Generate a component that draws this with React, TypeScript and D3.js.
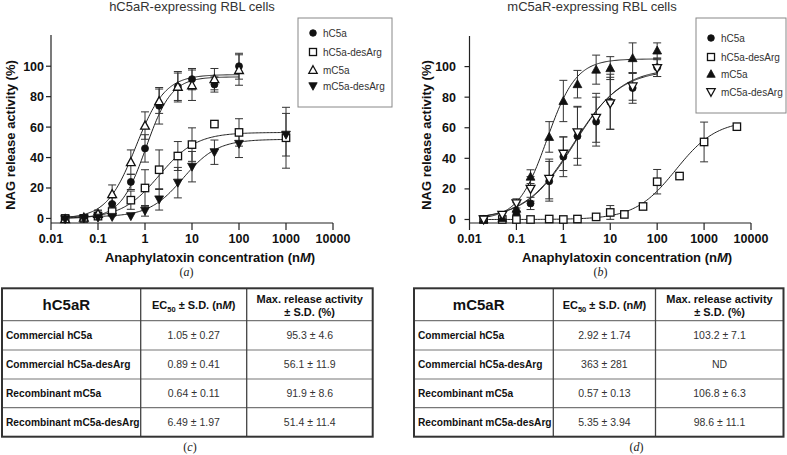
import React from "react";
import { scaleLog, scaleLinear, line, range } from "d3";

const FONT = "'Liberation Sans', Arial, Helvetica, sans-serif";
const SERIF = "'Liberation Serif', 'Times New Roman', serif";

// concentrations (nM)
const concStd = [0.02, 0.05, 0.1, 0.2, 0.5, 1, 2, 5, 10, 30, 100];
const concA_desArg = [0.02, 0.05, 0.1, 0.2, 0.5, 1, 2, 5, 10, 30, 100, 1000];
const concB_hDesArg = [0.02, 0.05, 0.1, 0.2, 0.5, 1, 2, 5, 10, 20, 50, 100, 300, 1000, 5000];

// (a) hC5aR-expressing cells, NAG release (%)
const a_hC5a = [0, 0.5, 2.5, 9.5, 24, 46, 74, 86.5, 91.5, 88, 100];
const a_hC5a_sd = [0.5, 0.5, 3, 4, 5, 9, 12, 9, 7, 5, 8.5];
const a_hC5aDesArg = [0, 0, 1.5, 4.5, 12, 20, 32, 41, 48.5, 62, 56.5, 53];
const a_hC5aDesArg_sd = [0, 0, 1, 3, 6, 12, 13, 9.5, 11, 0, 9, 20];
const a_mC5a = [-0.5, 0.5, 3, 16, 37, 61, 77, 86.5, 87.5, 91.5, 97.5];
const a_mC5a_sd = [0.5, 0.5, 2, 6, 8, 9, 8, 10, 10, 7, 10];
const a_mC5aDesArg = [-0.5, 0, 0.5, 1, 1.5, 5, 12.5, 23.5, 34, 43.5, 49, 55];
const a_mC5aDesArg_sd = [0, 0, 0, 0.5, 1, 3.5, 7, 10, 10, 8, 9, 14];

// (b) mC5aR-expressing cells
const b_hC5a = [0, 0.5, 3.5, 10.5, 25, 41, 54.5, 64, 77, 86, 99.5];
const b_hC5a_sd = [0.5, 0.5, 2, 4, 13, 13, 19, 16, 18, 10, 6];
const b_hC5aDesArg = [0, 0, 0, 0, 0.3, 0, 0.3, 1.7, 4.6, 3.3, 8.5, 24.7, 28.4, 50.7, 60.7];
const b_hC5aDesArg_sd = [0, 0, 0, 0, 0, 0.5, 0, 1, 4.5, 0, 0, 8, 0, 13, 0];
const b_mC5a = [0, 1, 7, 28, 54, 77.5, 88.5, 98, 99, 105.5, 110.5];
const b_mC5a_sd = [0.5, 1, 4, 4.5, 10, 13.5, 9, 9.5, 7.5, 10, 5];
const b_mC5aDesArg = [0, 3, 10.5, 20, 26.5, 43, 57, 66.5, 76, 87, 99];
const b_mC5aDesArg_sd = [0.5, 1.5, 3, 8, 13, 11, 17, 16, 17, 9, 5.5];

// fitted curves: [bottom, top, EC50, hill, last conc]
const fitA_hC5a = [0, 93, 1.05, 1.6, 100];
const fitA_hC5aDesArg = [0, 56.5, 2, 1.1, 1000];
const fitA_mC5a = [0, 94.5, 0.64, 1.4, 100];
const fitA_mC5aDesArg = [1, 52, 6.5, 1.2, 1000];
const fitB_hC5a = [0, 99, 1.7, 0.85, 100];
const fitB_hC5aDesArg = [0, 65, 250, 1.0, 5000];
const fitB_mC5a = [0, 105, 0.45, 1.4, 100];
const fitB_mC5aDesArg = [0, 98, 1.6, 0.85, 100];

const xTicks = [0.01, 0.1, 1, 10, 100, 1000, 10000];
const xTickLabels = ["0.01", "0.1", "1", "10", "100", "1000", "10000"];
const yTicks = [0, 20, 40, 60, 80, 100];

// tables
const rowLabels = ["Commercial hC5a", "Commercial hC5a-desArg", "Recombinant mC5a", "Recombinant mC5a-desArg"];
const c_ec50 = ["1.05 ± 0.27", "0.89 ± 0.41", "0.64 ± 0.11", "6.49 ± 1.97"];
const c_max = ["95.3 ± 4.6", "56.1 ± 11.9", "91.9 ± 8.6", "51.4 ± 11.4"];
const d_ec50 = ["2.92 ± 1.74", "363 ± 281", "0.57 ± 0.13", "5.35 ± 3.94"];
const d_max = ["103.2 ± 7.1", "ND", "106.8 ± 6.3", "98.6 ± 11.1"];

function Marker({ shape, filled, x, y, s = 1 }: any) {
  const fill = filled ? "#111" : "#fff";
  const sw = filled ? 0.8 : 1.3;
  if (shape === "circle")
    return <circle cx={x} cy={y} r={3.5 * s} fill={fill} stroke="#111" strokeWidth={sw} />;
  if (shape === "square") {
    const h = 3.7 * s;
    return <rect x={x - h} y={y - h} width={2 * h} height={2 * h} fill={fill} stroke="#111" strokeWidth={sw} />;
  }
  const w = 4.4 * s, h = 4 * s;
  const d = shape === "up"
    ? `M${x},${y - h - 0.5}L${x + w},${y + h - 0.5}L${x - w},${y + h - 0.5}Z`
    : `M${x},${y + h + 0.5}L${x + w},${y - h + 0.5}L${x - w},${y - h + 0.5}Z`;
  return <path d={d} fill={fill} stroke="#111" strokeWidth={sw} strokeLinejoin="miter" />;
}

function Panel({ cfg }: any) {
  const x = scaleLog().domain([0.01, 10000]).range([cfg.left, cfg.right]);
  const y = scaleLinear().domain([cfg.yMin, cfg.yMax]).range([223, cfg.top]);
  const axisY = 223;

  const curve = (f: number[]) => {
    const lo = Math.log10(0.02), hi = Math.log10(f[4]);
    const pts = range(0, 161).map((i) => 10 ** (lo + ((hi - lo) * i) / 160));
    return line<number>()
      .x((c) => x(c))
      .y((c) => y(f[0] + (f[1] - f[0]) / (1 + Math.pow(f[2] / c, f[3]))))(pts);
  };

  return (
    <g fontFamily={FONT}>
      <text x={cfg.titleX} y={11} textAnchor="middle" fontSize={13} fill="#333">{cfg.title}</text>

      {/* axes */}
      <line x1={cfg.left} x2={cfg.left} y1={cfg.top} y2={axisY} stroke="#222" strokeWidth={1.2} />
      <line x1={cfg.left} x2={cfg.right} y1={axisY} y2={axisY} stroke="#222" strokeWidth={1.2} />
      {xTicks.map((t, i) => (
        <g key={t}>
          <line x1={x(t)} x2={x(t)} y1={axisY} y2={axisY + 7} stroke="#222" strokeWidth={1.2} />
          <text x={x(t)} y={243} textAnchor="middle" fontSize={12.5} fontWeight="bold" fill="#111">{xTickLabels[i]}</text>
        </g>
      ))}
      {yTicks.map((t) => (
        <g key={t}>
          <line x1={cfg.left - 5} x2={cfg.left} y1={y(t)} y2={y(t)} stroke="#222" strokeWidth={1.2} />
          <text x={cfg.yLabelEnd} y={y(t) + 4.5} textAnchor="end" fontSize={12.5} fontWeight="bold" fill="#111">{t}</text>
        </g>
      ))}
      <text x={cfg.xTitleX} y={262} textAnchor="middle" fontSize={13} fontWeight="bold" fill="#111">
        Anaphylatoxin concentration (n<tspan fontStyle="italic">M</tspan>)
      </text>
      <text transform={`translate(${cfg.yTitleX},135) rotate(-90)`} textAnchor="middle" fontSize={13} fontWeight="bold" fill="#111">
        NAG release activity (%)
      </text>
      <text x={cfg.subX} y={276} textAnchor="middle" fontSize={12} fontFamily={SERIF} fill="#222">
        (<tspan fontStyle="italic">{cfg.sub}</tspan>)
      </text>

      {/* fits */}
      {cfg.series.map((s: any) => (
        <path key={s.name + "f"} d={curve(s.fit) || ""} fill="none" stroke="#222" strokeWidth={1} />
      ))}
      {/* error bars */}
      {cfg.series.map((s: any) =>
        s.conc.map((c: number, i: number) =>
          s.sd[i] > 1.5 ? (
            <g key={s.name + "e" + i} stroke="#333" strokeWidth={1}>
              <line x1={x(c)} x2={x(c)} y1={y(s.mean[i] - s.sd[i])} y2={y(s.mean[i] + s.sd[i])} />
              <line x1={x(c) - 4} x2={x(c) + 4} y1={y(s.mean[i] - s.sd[i])} y2={y(s.mean[i] - s.sd[i])} />
              <line x1={x(c) - 4} x2={x(c) + 4} y1={y(s.mean[i] + s.sd[i])} y2={y(s.mean[i] + s.sd[i])} />
            </g>
          ) : null
        )
      )}
      {/* points */}
      {cfg.series.map((s: any) =>
        s.conc.map((c: number, i: number) => (
          <Marker key={s.name + "p" + i} shape={s.shape} filled={s.filled} x={x(c)} y={y(s.mean[i])} />
        ))
      )}

      {/* legend */}
      <rect x={cfg.legend[0]} y={cfg.legend[1]} width={cfg.legend[2]} height={cfg.legend[3]} fill="#fff" stroke="#888" strokeWidth={1} />
      {cfg.series.map((s: any, i: number) => (
        <g key={s.name + "l"}>
          <Marker shape={s.shape} filled={s.filled} x={cfg.legendMarkX} y={cfg.legendRows[i]} s={0.95} />
          <text x={cfg.legendMarkX + 10} y={cfg.legendRows[i] + 3.6} fontSize={10} fill="#333">{s.name}</text>
        </g>
      ))}
    </g>
  );
}

function Table({ cfg }: any) {
  const [x0, x1, x2, x3] = cfg.cols;
  const ys = cfg.rows;
  return (
    <g fontFamily={FONT}>
      {ys.slice(1, -1).map((yy: number) => (
        <line key={yy} x1={x0} x2={x3} y1={yy} y2={yy} stroke="#777" strokeWidth={1.2} />
      ))}
      <line x1={x1} x2={x1} y1={ys[0]} y2={ys[ys.length - 1]} stroke="#444" strokeWidth={1.3} />
      <line x1={x2} x2={x2} y1={ys[0]} y2={ys[ys.length - 1]} stroke="#444" strokeWidth={1.3} />
      <rect x={x0} y={ys[0]} width={x3 - x0} height={ys[ys.length - 1] - ys[0]} fill="none" stroke="#333" strokeWidth={2} />

      <text x={(x0 + x1) / 2 - 5} y={309.5} textAnchor="middle" fontSize={15} fontWeight="bold" fill="#111">{cfg.head}</text>
      <text x={(x1 + x2) / 2} y={309} textAnchor="middle" fontSize={11} fontWeight="bold" fill="#111">
        EC<tspan fontSize={7.5} dy={2.5}>50</tspan><tspan dy={-2.5}> ± S.D. (n</tspan><tspan fontStyle="italic">M</tspan>)
      </text>
      <text x={(x2 + x3) / 2} y={303} textAnchor="middle" fontSize={11} fontWeight="bold" fill="#111">Max. release activity</text>
      <text x={(x2 + x3) / 2} y={316} textAnchor="middle" fontSize={11} fontWeight="bold" fill="#111">± S.D. (%)</text>

      {rowLabels.map((r, i) => {
        const cy = (ys[i + 1] + ys[i + 2]) / 2 + 3.7;
        return (
          <g key={r}>
            <text x={x0 + 4} y={cy} fontSize={10.2} fontWeight="bold" fill="#111">{r}</text>
            <text x={(x1 + x2) / 2} y={cy} textAnchor="middle" fontSize={10.5} fill="#333">{cfg.ec50[i]}</text>
            <text x={(x2 + x3) / 2} y={cy} textAnchor="middle" fontSize={10.5} fill="#333">{cfg.max[i]}</text>
          </g>
        );
      })}
      <text x={cfg.subX} y={451} textAnchor="middle" fontSize={12} fontFamily={SERIF} fill="#222">
        (<tspan fontStyle="italic">{cfg.sub}</tspan>)
      </text>
    </g>
  );
}

export default function App() {
  const panelA = {
    title: "hC5aR-expressing RBL cells", titleX: 192, left: 51, right: 333, top: 35, yMin: -3, yMax: 120.5,
    yLabelEnd: 44, xTitleX: 210, yTitleX: 15, sub: "a", subX: 186.5,
    legend: [298, 18, 94, 89], legendMarkX: 313, legendRows: [33, 52, 70, 86],
    series: [
      { name: "hC5a", shape: "circle", filled: true, conc: concStd, mean: a_hC5a, sd: a_hC5a_sd, fit: fitA_hC5a },
      { name: "hC5a-desArg", shape: "square", filled: false, conc: concA_desArg, mean: a_hC5aDesArg, sd: a_hC5aDesArg_sd, fit: fitA_hC5aDesArg },
      { name: "mC5a", shape: "up", filled: false, conc: concStd, mean: a_mC5a, sd: a_mC5a_sd, fit: fitA_mC5a },
      { name: "mC5a-desArg", shape: "down", filled: true, conc: concA_desArg, mean: a_mC5aDesArg, sd: a_mC5aDesArg_sd, fit: fitA_mC5aDesArg },
    ],
  };
  const panelB = {
    title: "mC5aR-expressing RBL cells", titleX: 592, left: 469.5, right: 751, top: 36, yMin: -2.3, yMax: 120,
    yLabelEnd: 456, xTitleX: 627, yTitleX: 431, sub: "b", subX: 600.5,
    legend: [696, 18, 90, 95], legendMarkX: 711, legendRows: [38, 57, 74, 92],
    series: [
      { name: "hC5a", shape: "circle", filled: true, conc: concStd, mean: b_hC5a, sd: b_hC5a_sd, fit: fitB_hC5a },
      { name: "hC5a-desArg", shape: "square", filled: false, conc: concB_hDesArg, mean: b_hC5aDesArg, sd: b_hC5aDesArg_sd, fit: fitB_hC5aDesArg },
      { name: "mC5a", shape: "up", filled: true, conc: concStd, mean: b_mC5a, sd: b_mC5a_sd, fit: fitB_mC5a },
      { name: "mC5a-desArg", shape: "down", filled: false, conc: concStd, mean: b_mC5aDesArg, sd: b_mC5aDesArg_sd, fit: fitB_mC5aDesArg },
    ],
  };
  const rowsY = [288.3, 320.7, 350, 379, 407.7, 436.7];
  const tableC = { head: "hC5aR", cols: [2, 140.7, 246.7, 372.7], rows: rowsY, ec50: c_ec50, max: c_max, sub: "c", subX: 190 };
  const tableD = { head: "mC5aR", cols: [414, 553.3, 655.5, 783.5], rows: rowsY, ec50: d_ec50, max: d_max, sub: "d", subX: 636.5 };

  return (
    <svg width={787} height={455} style={{ position: "absolute", left: 0, top: 0, background: "#fff" }}>
      <rect width={787} height={455} fill="#fff" />
      <Panel cfg={panelA} />
      <Panel cfg={panelB} />
      <Table cfg={tableC} />
      <Table cfg={tableD} />
    </svg>
  );
}
